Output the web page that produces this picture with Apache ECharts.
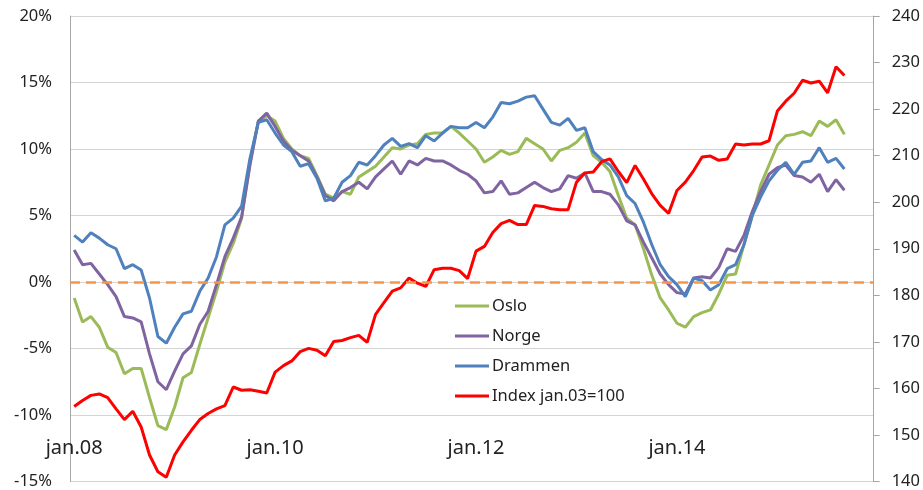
<!DOCTYPE html>
<html>
<head>
<meta charset="utf-8">
<script src="https://cdn.jsdelivr.net/npm/echarts@6/dist/echarts.min.js"></script>
<style>
  html, body { margin: 0; padding: 0; background: #fff; }
  #chart { width: 923px; height: 490px; }
</style>
</head>
<body>
<div id="chart"></div>
<script>
// månedlige kategorier jan.08 - des.15
const months = ['jan', 'feb', 'mar', 'apr', 'mai', 'jun', 'jul', 'aug', 'sep', 'okt', 'nov', 'des'];
const years = ['08', '09', '10', '11', '12', '13', '14', '15'];
const categories = [];
years.forEach((y) => months.forEach((m) => categories.push(m + '.' + y)));

// prisvekst siste 12 mnd, prosent (venstre akse)
const oslo = [
  -1.2, -3.0, -2.6, -3.4, -4.9, -5.3, -6.9, -6.5, -6.5, -8.7, -10.8, -11.1,
  -9.4, -7.2, -6.8, -4.7, -2.7, -0.7, 1.5, 2.9, 4.8, 9.0, 12.1, 12.5,
  12.1, 10.8, 10.0, 9.5, 9.3, 8.0, 6.6, 6.3, 6.8, 6.6, 7.9, 8.3,
  8.7, 9.4, 10.1, 10.0, 10.3, 10.4, 11.1, 11.2, 11.2, 11.7, 11.2, 10.6,
  10.0, 9.0, 9.4, 9.9, 9.6, 9.8, 10.8, 10.4, 10.0, 9.1, 9.9, 10.1,
  10.5, 11.2, 9.5, 9.0, 8.3, 6.5, 4.8, 4.3, 2.5, 0.5, -1.2, -2.1,
  -3.1, -3.4, -2.6, -2.3, -2.1, -0.9, 0.5, 0.6, 2.8, 5.0, 7.3, 8.8,
  10.3, 11.0, 11.1, 11.3, 11.0, 12.1, 11.7, 12.2, 11.1
];
const norge = [
  2.4, 1.3, 1.4, 0.6, -0.2, -1.1, -2.6, -2.7, -3.0, -5.4, -7.5, -8.1,
  -6.7, -5.4, -4.8, -3.2, -2.2, -0.2, 1.9, 3.3, 4.9, 8.8, 12.1, 12.7,
  11.7, 10.6, 9.9, 9.5, 9.1, 7.9, 6.5, 6.1, 6.8, 7.1, 7.5, 7.0,
  7.9, 8.5, 9.1, 8.1, 9.1, 8.8, 9.3, 9.1, 9.1, 8.8, 8.4, 8.1,
  7.6, 6.7, 6.8, 7.6, 6.6, 6.7, 7.1, 7.5, 7.1, 6.8, 7.0, 8.0,
  7.8, 8.2, 6.8, 6.8, 6.6, 5.8, 4.6, 4.3, 3.0, 1.8, 0.6, -0.2,
  -0.8, -0.9, 0.3, 0.4, 0.3, 1.1, 2.5, 2.3, 3.5, 5.3, 6.8, 8.1,
  8.6, 8.8, 8.0, 7.9, 7.5, 8.1, 6.8, 7.7, 6.9
];
const drammen = [
  3.5, 3.0, 3.7, 3.3, 2.8, 2.5, 1.0, 1.3, 0.9, -1.2, -4.1, -4.6,
  -3.4, -2.4, -2.2, -0.7, 0.3, 1.9, 4.3, 4.8, 5.7, 9.3, 12.0, 12.2,
  11.2, 10.3, 9.8, 8.7, 8.9, 7.8, 6.1, 6.3, 7.5, 8.0, 9.0, 8.8,
  9.5, 10.3, 10.8, 10.2, 10.4, 10.1, 11.0, 10.6, 11.2, 11.7, 11.6, 11.6,
  12.0, 11.6, 12.4, 13.5, 13.4, 13.6, 13.9, 14.0, 13.0, 12.0, 11.8, 12.3,
  11.4, 11.6, 9.8, 9.2, 8.8, 7.9, 6.5, 5.9, 4.5, 2.8, 1.3, 0.4,
  -0.2, -1.1, 0.3, 0.1, -0.6, -0.2, 1.0, 1.3, 2.8, 5.0, 6.4, 7.6,
  8.4, 9.0, 8.1, 9.0, 9.1, 10.1, 9.0, 9.3, 8.5
];
// prisindeks, jan.03 = 100 (høyre akse)
const indeks = [
  156.1, 157.4, 158.5, 158.8, 158.0, 155.6, 153.3, 155.1, 151.7, 145.7, 142.1, 140.9,
  145.7, 148.5, 151.0, 153.3, 154.6, 155.6, 156.3, 160.3, 159.6, 159.7, 159.4, 159.0,
  163.5, 164.9, 165.9, 167.9, 168.6, 168.2, 167.0, 170.1, 170.3, 170.9, 171.4, 169.9,
  175.9, 178.4, 180.9, 181.6, 183.7, 182.6, 181.9, 185.5, 185.8, 185.8, 185.3, 183.6,
  189.5, 190.5, 193.5, 195.4, 196.1, 195.2, 195.2, 199.3, 199.1, 198.6, 198.4, 198.4,
  204.3, 206.3, 206.5, 208.7, 209.3, 206.6, 204.2, 207.9, 205.0, 201.8, 199.3, 197.6,
  202.5, 204.3, 206.8, 209.7, 209.9, 209.0, 209.3, 212.5, 212.3, 212.5, 212.5, 213.2,
  219.6, 221.7, 223.4, 226.2, 225.6, 226.0, 223.5, 229.1, 227.2
];

const font = 'Noto Sans';
const textColor = '#222';

const chart = echarts.init(document.getElementById('chart'));

const lineSeries = (name, data, color, yAxisIndex) => ({
  name,
  type: 'line',
  data,
  yAxisIndex,
  showSymbol: false,
  symbol: 'none',
  lineStyle: { width: 3, color },
  itemStyle: { color },
  z: 3
});

const osloSeries = lineSeries('Oslo', oslo, '#9bbb59', 0);
osloSeries.markLine = {
  silent: true,
  symbol: 'none',
  label: { show: false },
  lineStyle: { color: '#f79646', width: 2.5, type: [10, 6] },
  data: [{ yAxis: 0 }]
};

chart.setOption({
  animation: false,
  backgroundColor: '#fff',
  grid: { left: 70, right: 48, top: 16, bottom: 5 },
  legend: {
    orient: 'vertical',
    left: 450,
    top: 291,
    icon: 'rect',
    itemWidth: 34,
    itemHeight: 3,
    itemGap: 10,
    textStyle: { fontFamily: font, fontSize: 16.5, color: textColor, lineHeight: 20, padding: [0, 0, 0, -2] },
    data: ['Oslo', 'Norge', 'Drammen', 'Index jan.03=100']
  },
  xAxis: {
    type: 'category',
    data: categories,
    boundaryGap: true,
    axisLine: { show: false },
    axisTick: { show: false },
    axisLabel: {
      interval: 23,
      margin: -43,
      fontFamily: font,
      fontSize: 20,
      color: textColor
    },
    splitLine: { show: false }
  },
  yAxis: [
    {
      type: 'value',
      min: -15,
      max: 20,
      interval: 5,
      axisLine: { show: true, lineStyle: { color: '#a6a6a6', width: 1 } },
      axisTick: { show: false },
      axisLabel: { formatter: '{value}%', margin: 18, fontFamily: font, fontSize: 16.5, color: textColor },
      splitLine: { lineStyle: { color: '#d4d4d4', width: 1.2 } }
    },
    {
      type: 'value',
      position: 'right',
      min: 140,
      max: 240,
      interval: 10,
      axisLine: { show: true, lineStyle: { color: '#a6a6a6', width: 1 } },
      axisTick: { show: true, length: 6, lineStyle: { color: '#a6a6a6' } },
      axisLabel: { margin: 18, fontFamily: font, fontSize: 16.5, color: textColor },
      splitLine: { show: false }
    }
  ],
  series: [
    osloSeries,
    lineSeries('Norge', norge, '#8064a2', 0),
    lineSeries('Drammen', drammen, '#4f81bd', 0),
    lineSeries('Index jan.03=100', indeks, '#ff0000', 1)
  ]
});

window.addEventListener('resize', () => chart.resize());
</script>
</body>
</html>
